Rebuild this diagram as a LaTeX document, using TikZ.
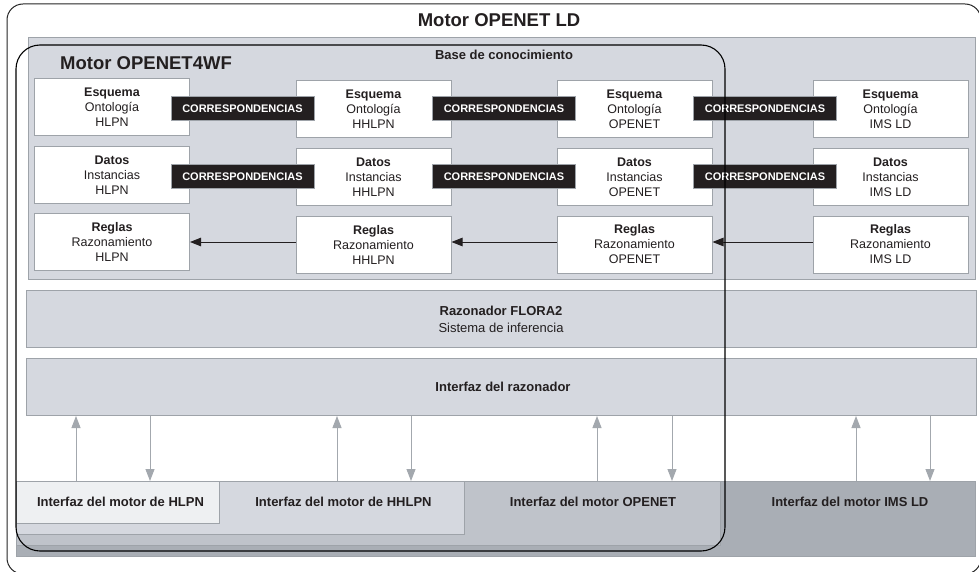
\documentclass[tikz,border=0pt]{standalone}
\usepackage{fontspec}
\setmainfont{Liberation Sans}
\usetikzlibrary{arrows.meta}
\definecolor{panel}{HTML}{D5D8DF}
\definecolor{edge}{HTML}{9EA3A9}
\definecolor{ink}{HTML}{231F20}
\definecolor{lite}{HTML}{EEF0F2}
\definecolor{midg}{HTML}{BFC3CA}
\definecolor{darkg}{HTML}{A9AEB5}
\definecolor{garrow}{HTML}{A3A8AE}
\tikzset{
  wbox/.style={draw=edge, line width=1pt, fill=white, minimum width=155pt, minimum height=57pt, inner sep=0pt, align=center, text=ink, font=\fontsize{12.5}{15}\selectfont},
  corr/.style={draw=edge, line width=1pt, fill=ink, text=white, minimum width=143pt, minimum height=24pt, inner sep=0pt, font=\fontsize{11}{13}\selectfont\bfseries},
  band/.style={draw=edge, line width=1pt, fill=panel, inner sep=0pt},
  lbl/.style={text=ink, inner sep=0pt, font=\fontsize{13}{17}\selectfont\bfseries, align=center},
  barr/.style={line width=0.9pt, ink, -{Triangle[length=11pt,width=8.5pt]}},
  garr/.style={line width=1pt, garrow, -{Triangle[length=12pt,width=9pt]}},
  bigtitle/.style={text=ink, inner sep=0pt, font=\fontsize{18.5}{20}\selectfont\bfseries},
}
\begin{document}
\begin{tikzpicture}[x=1pt,y=-1pt]
\useasboundingbox (0,0) rectangle (979,572);
\fill[white] (0,0) rectangle (979,572);
% outer frame (clipped at right and bottom)
\begin{scope}
\clip (0,0) rectangle (979,572);
\draw[line width=1pt, black!85, rounded corners=16pt] (7,4) rectangle (981,574);
\end{scope}
\node[bigtitle] (t1) at (499,20) {Motor OPENET LD};
% knowledge base panel
\node[band, anchor=north west, minimum width=947pt, minimum height=242pt] (kb) at (28,37) {};
\node[lbl] (kbt) at (504,55) {Base de conocimiento};
% boxes
\node[wbox] (a1) at (112,107.5) {\textbf{Esquema}\\Ontología\\HLPN};
\node[wbox] (b1) at (112,175) {\textbf{Datos}\\Instancias\\HLPN};
\node[wbox] (c1) at (112,242) {\textbf{Reglas}\\Razonamiento\\HLPN};
\node[wbox] (a2) at (373.5,109.5) {\textbf{Esquema}\\Ontología\\HHLPN};
\node[wbox] (b2) at (373.5,177) {\textbf{Datos}\\Instancias\\HHLPN};
\node[wbox] (c2) at (373.5,244.5) {\textbf{Reglas}\\Razonamiento\\HHLPN};
\node[wbox] (a3) at (634.5,109.5) {\textbf{Esquema}\\Ontología\\OPENET};
\node[wbox] (b3) at (634.5,177) {\textbf{Datos}\\Instancias\\OPENET};
\node[wbox] (c3) at (634.5,244.5) {\textbf{Reglas}\\Razonamiento\\OPENET};
\node[wbox] (a4) at (890.5,109.5) {\textbf{Esquema}\\Ontología\\IMS LD};
\node[wbox] (b4) at (890.5,177) {\textbf{Datos}\\Instancias\\IMS LD};
\node[wbox] (c4) at (890.5,244.5) {\textbf{Reglas}\\Razonamiento\\IMS LD};
% correspondences
\node[corr] (m11) at (242.5,109) {CORRESPONDENCIAS};
\node[corr] (m12) at (504,109) {CORRESPONDENCIAS};
\node[corr] (m13) at (765,109) {CORRESPONDENCIAS};
\node[corr] (m21) at (242.5,176.5) {CORRESPONDENCIAS};
\node[corr] (m22) at (504,176.5) {CORRESPONDENCIAS};
\node[corr] (m23) at (765,176.5) {CORRESPONDENCIAS};
% rule arrows
\draw[barr] (c2.west |- c1.east) -- (c1.east);
\draw[barr] (c3.west |- c1.east) -- (c2.east |- c1.east);
\draw[barr] (c4.west |- c1.east) -- (c3.east |- c1.east);
% reasoner
\node[band, anchor=north west, minimum width=950pt, minimum height=57pt] (raz) at (26,290) {};
\node[lbl, font=\fontsize{13}{17}\selectfont] (razt) at (501,319) {\textbf{Razonador FLORA2}\\Sistema de inferencia};
\node[band, anchor=north west, minimum width=950pt, minimum height=57pt] (ir) at (26,358) {};
\node[lbl] (irt) at (503,387) {Interfaz del razonador};
% bottom engine interfaces
\node[band, fill=darkg, anchor=north west, minimum width=959pt, minimum height=75pt] (e4) at (16,481) {};
\node[band, fill=midg, anchor=north west, minimum width=704pt, minimum height=64pt] (e3) at (16,481) {};
\node[band, fill=panel, anchor=north west, minimum width=448pt, minimum height=53pt] (e2) at (16,481) {};
\node[band, fill=lite, anchor=north west, minimum width=203pt, minimum height=42pt] (e1) at (16,481) {};
\node[lbl] (e1t) at (120.5,502) {Interfaz del motor de HLPN};
\node[lbl] (e2t) at (343.5,502) {Interfaz del motor de HHLPN};
\node[lbl] (e3t) at (593,502) {Interfaz del motor OPENET};
\node[lbl] (e4t) at (850,502) {Interfaz del motor IMS LD};
% vertical arrows
\foreach \u/\d/\n in {76/150/1, 337/411/2, 597/672/3, 856/930/4}{
  \coordinate (up\n) at (\u,481);
  \coordinate (dn\n) at (\d,481);
  \draw[garr] (up\n) -- (up\n |- ir.south);
  \draw[garr] (dn\n |- ir.south) -- (dn\n);
}
% OPENET4WF frame
\draw[line width=1.1pt, black, rounded corners=24pt] (16,45) rectangle (725,551);
\node[bigtitle, anchor=west] (t2) at (60,63) {Motor OPENET4WF};
\end{tikzpicture}
\end{document}
